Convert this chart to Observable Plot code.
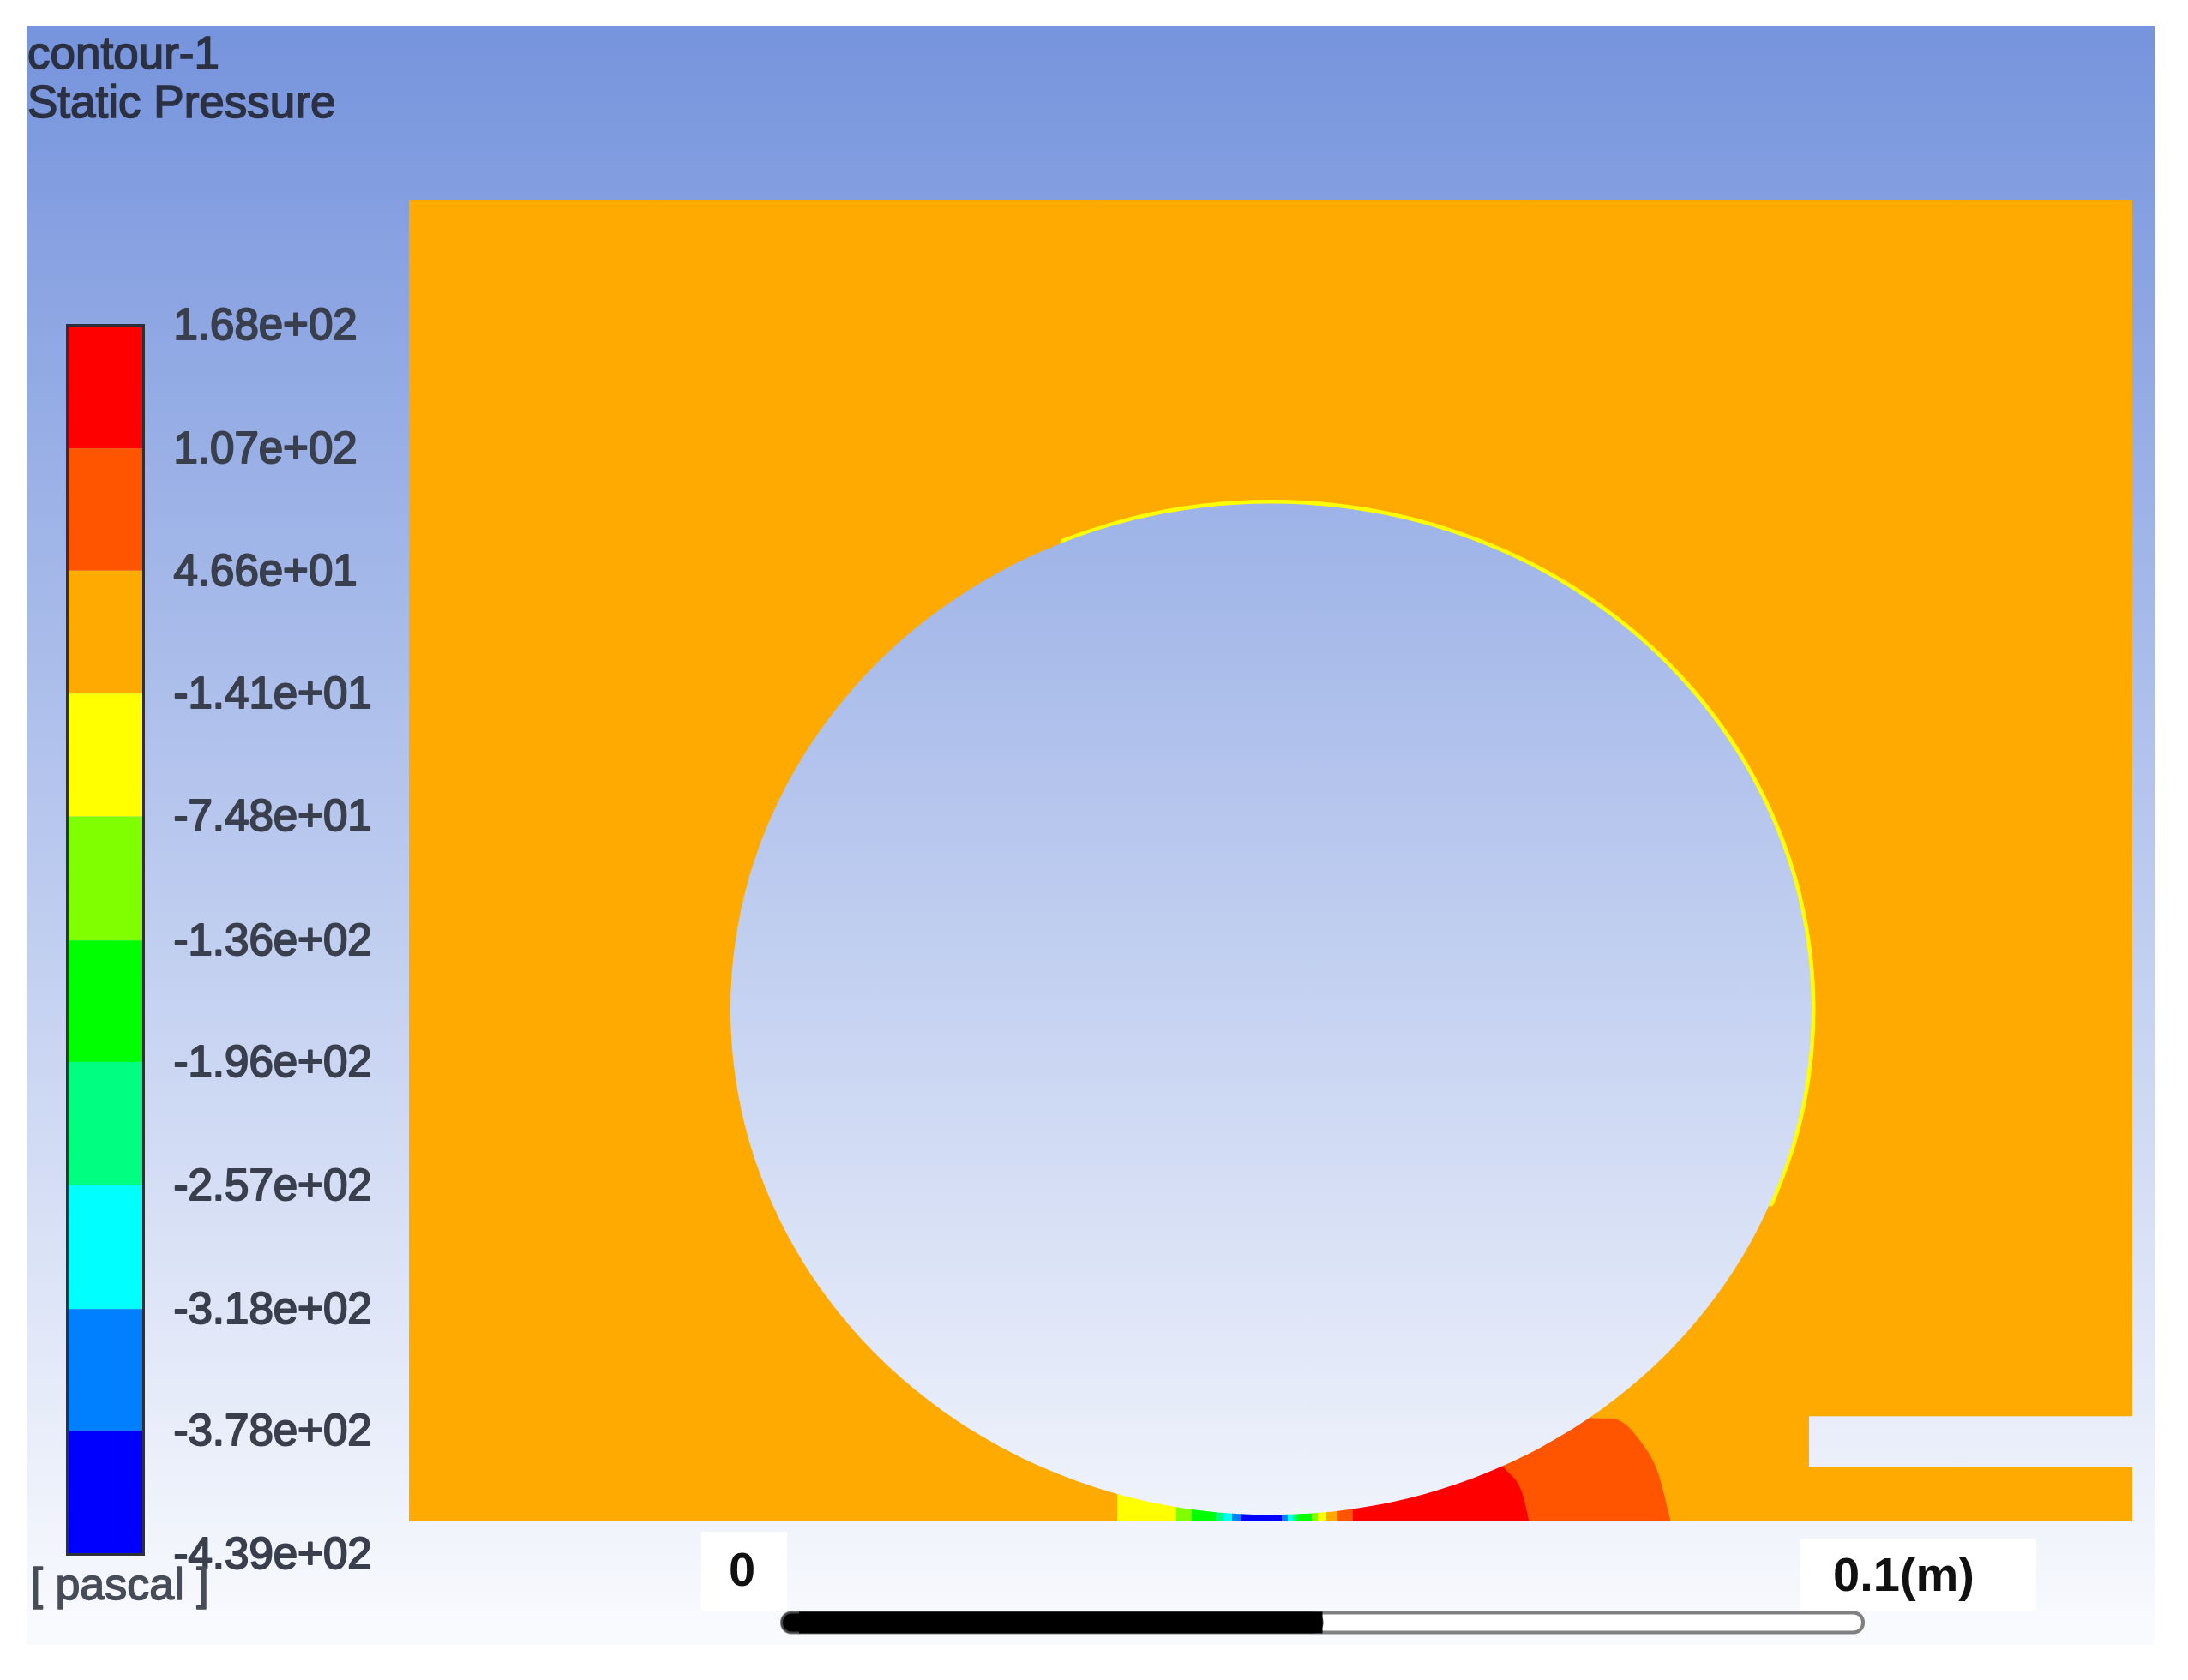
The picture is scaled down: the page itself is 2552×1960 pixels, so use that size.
<!DOCTYPE html>
<html><head><meta charset="utf-8">
<script src="https://cdn.jsdelivr.net/npm/d3@7"></script>
<script src="https://cdn.jsdelivr.net/npm/@observablehq/plot@0.6"></script>
<style>
html,body{margin:0;padding:0;background:#fff;width:2552px;height:1960px;overflow:hidden}
#frame{position:absolute;left:32px;top:30px;width:2481px;height:1889px;background:linear-gradient(to bottom,#7694dd 0%,#fafbfe 100%)}
#title{position:absolute;left:32px;top:33px;font-family:"Liberation Sans",Arial,sans-serif;font-size:53px;line-height:57px;color:#2b3142;-webkit-text-stroke:1.6px #2b3142}
.layer{position:absolute;left:0;top:0}
</style></head><body>
<div id="frame"></div>
<div id="title">contour-1<br>Static Pressure</div>
<div id="main" class="layer"></div>
<div id="legend" class="layer"></div>
<script>
// ---- colour bar (Static Pressure, Pa) ----
const levels = [168, 107, 46.6, -14.1, -74.8, -136, -196, -257, -318, -378, -439];
const levelLabels = ["1.68e+02","1.07e+02","4.66e+01","-1.41e+01","-7.48e+01","-1.36e+02","-1.96e+02","-2.57e+02","-3.18e+02","-3.78e+02","-4.39e+02"];
const bandColors = ["#ff0000","#ff5500","#ffaa00","#ffff00","#80ff00","#00ff00","#00ff80","#00ffff","#0080ff","#0000ff"];
const unitLabel = "[ pascal ]";

// ---- geometry (m) ----
const domainX = [-0.0797, 0.0797];
const domainY = [-0.0507, 0.0800];
const fluidBand = 2;                       // bulk of the domain: -1.41e+01 .. 4.66e+01
const plateX = [0.0498, 0.0797];
const plateY = [-0.0453, -0.0403];
const cylinderCenter = [0, 0];
// cylinder wall (D = 0.1 m), read every 15 degrees
const cylinderOutline = [
  [0.05,0],[0.0483,0.01294],[0.0433,0.025],[0.03536,0.03536],[0.025,0.0433],[0.01294,0.0483],
  [0,0.05],[-0.01294,0.0483],[-0.025,0.0433],[-0.03536,0.03536],[-0.0433,0.025],[-0.0483,0.01294],
  [-0.05,0],[-0.0483,-0.01294],[-0.0433,-0.025],[-0.03536,-0.03536],[-0.025,-0.0433],[-0.01294,-0.0483],
  [0,-0.05],[0.01294,-0.0483],[0.025,-0.0433],[0.03536,-0.03536],[0.0433,-0.025],[0.0483,-0.01294]];
// thin -1.41e+01..-7.48e+01 layer on the upper/right wall
const yellowEdge = [
  [-0.01913,0.04619],[-0.01294,0.0483],[-0.00653,0.04957],[0,0.05],[0.00653,0.04957],[0.01294,0.0483],
  [0.01913,0.04619],[0.025,0.0433],[0.03044,0.03967],[0.03536,0.03536],[0.03967,0.03044],[0.0433,0.025],
  [0.04619,0.01913],[0.0483,0.01294],[0.04957,0.00653],[0.05,0],[0.04957,-0.00653],[0.0483,-0.01294],[0.04619,-0.01913]];

// ---- contour bands near the contact ----
const orangeRedContour = [[0.0062,-0.036],[0.0270,-0.0395],[0.0300,-0.0405],[0.0315,-0.0405],[0.0343,-0.0429],[0.0358,-0.0458],[0.0370,-0.0507]];
const redContour = [[0.0076,-0.040],[0.0195,-0.0425],[0.0216,-0.0454],[0.0232,-0.0477],[0.0239,-0.0507]];
const contactEdges = [-0.01419,-0.00872,-0.00729,-0.00507,-0.00436,-0.00357,-0.00277,0.00103,0.00159,0.00206,0.00246,0.00381,0.00436,0.00515];
const contactBands = [3,4,5,6,7,8,9,8,7,6,5,4,3];

// ---- scale bar ----
const scaleBarStart = -0.0452;
const scaleBarLength = 0.1;
const scaleBarY = -0.0607;
const scaleLabels = ["0", "0.1(m)"];

const FONT = '"Liberation Sans", Arial, sans-serif';
const colorScale = {type: "ordinal", domain: d3.range(bandColors.length), range: bandColors};

const domainRect = [{x1: domainX[0], x2: domainX[1], y1: domainY[0], y2: domainY[1], band: fluidBand}];
const plateRect = [{x1: plateX[0], x2: plateX[1], y1: plateY[0], y2: plateY[1]}];
const strips = contactBands.map((b, i) => ({x1: contactEdges[i], x2: contactEdges[i + 1], y1: domainY[0], y2: cylinderCenter[1], band: b}));
const sb = [{x1: scaleBarStart, x2: scaleBarStart + scaleBarLength, xm: scaleBarStart + scaleBarLength / 2, y: scaleBarY}];
const orData = orangeRedContour.map(([x, y]) => ({x, y, base: domainY[0], band: 1}));
const redData = redContour.map(([x, y]) => ({x, y, base: domainY[0], band: 0}));
const cylData = cylinderOutline.map(([x, y]) => ({x: x + cylinderCenter[0], y: y + cylinderCenter[1]}));
const edgeData = yellowEdge.map(([x, y]) => ({x: x + cylinderCenter[0], y: y + cylinderCenter[1], band: 3}));

const main = Plot.plot({
  width: 2552, height: 1960,
  marginLeft: 477, marginRight: 65, marginTop: 233, marginBottom: 185,
  x: {domain: domainX, axis: null},
  y: {domain: domainY, axis: null},
  color: colorScale,
  style: {background: "transparent", maxWidth: "none", overflow: "visible"},
  marks: [
    Plot.rect(domainRect, {x1: "x1", x2: "x2", y1: "y1", y2: "y2", fill: "band"}),
    Plot.areaY(orData, {x: "x", y1: "base", y2: "y", fill: "band", curve: "monotone-x"}),
    Plot.areaY(redData, {x: "x", y1: "base", y2: "y", fill: "band", curve: "monotone-x"}),
    Plot.rect(strips, {x1: "x1", x2: "x2", y1: "y1", y2: "y2", fill: "band"}),
    Plot.rect(plateRect, {x1: "x1", x2: "x2", y1: "y1", y2: "y2", fill: "url(#bgGrad)"}),
    Plot.line(edgeData, {x: "x", y: "y", curve: "catmull-rom", stroke: "band", strokeWidth: 9, strokeLinecap: "round"}),
    Plot.line(cylData, {x: "x", y: "y", curve: "catmull-rom-closed", fill: "url(#bgGrad)", stroke: "none"}),
    // scale bar label boxes
    Plot.rect(sb, {x1: "x1", x2: "x1", y1: "y", y2: "y", insetLeft: -94, insetRight: -6, insetTop: -106, insetBottom: 13, fill: "white"}),
    Plot.rect(sb, {x1: "x2", x2: "x2", y1: "y", y2: "y", insetLeft: -73, insetRight: -202, insetTop: -98, insetBottom: 13, fill: "white"}),
    Plot.text(sb, {x: "x1", y: "y", text: () => scaleLabels[0], dx: -47, dy: -61, fontSize: 56, fontWeight: "bold", fontFamily: FONT, fill: "#111"}),
    Plot.text(sb, {x: "x2", y: "y", text: () => scaleLabels[1], dx: 47, dy: -55, fontSize: 56, fontWeight: "bold", fontFamily: FONT, fill: "#111"}),
    // scale bar
    Plot.rect(sb, {x1: "x1", x2: "x2", y1: "y", y2: "y", insetTop: -11.5, insetBottom: -11.5, fill: "white", stroke: "#808080", strokeWidth: 4, rx: 11}),
    Plot.rect(sb, {x1: "x1", x2: "xm", y1: "y", y2: "y", insetTop: -11.5, insetBottom: -11.5, fill: "black", stroke: "#444", strokeWidth: 2, rx: 11}),
    Plot.rect(sb, {x1: "x1", x2: "xm", y1: "y", y2: "y", insetLeft: 20, insetTop: -12.5, insetBottom: -12.5, fill: "black"})
  ]
});

// background gradient shared by the frame, cylinder and plate slot
const defs = d3.select(main).insert("defs", ":first-child");
const grad = defs.append("linearGradient").attr("id", "bgGrad")
  .attr("gradientUnits", "userSpaceOnUse").attr("x1", 0).attr("y1", 30).attr("x2", 0).attr("y2", 1919);
grad.append("stop").attr("offset", "0%").attr("stop-color", "#7694dd");
grad.append("stop").attr("offset", "100%").attr("stop-color", "#fafbfe");
document.getElementById("main").appendChild(main);

const bandsTable = bandColors.map((c, i) => ({band: i, hi: levels[i], lo: levels[i + 1], left: 0, right: 1}));
const levelTable = levels.map((v, i) => ({v, label: levelLabels[i], right: 1}));
const unitTable = [{label: unitLabel, left: 0, v: levels[levels.length - 1]}];
const legend = Plot.plot({
  width: 2552, height: 1960,
  marginLeft: 78, marginRight: 2385, marginTop: 379, marginBottom: 147,
  x: {domain: [0, 1], axis: null},
  y: {domain: [levels[levels.length - 1], levels[0]], axis: null},
  color: colorScale,
  style: {background: "transparent", maxWidth: "none", overflow: "visible"},
  marks: [
    Plot.rect(bandsTable, {x1: "left", x2: "right", y1: "lo", y2: "hi", fill: "band"}),
    Plot.frame({stroke: "#2f2f3a", strokeWidth: 3}),
    Plot.text(levelTable, {x: "right", y: "v", text: "label", dx: 35, textAnchor: "start", fontSize: 51, fontFamily: FONT, fill: "#3a3f4d", stroke: "#3a3f4d", strokeWidth: 2}),
    Plot.text(unitTable, {x: "left", y: "v", text: "label", dx: -43, dy: 36, textAnchor: "start", fontSize: 52, fontFamily: FONT, fill: "#474c59", stroke: "#474c59", strokeWidth: 1.5})
  ]
});
document.getElementById("legend").appendChild(legend);
</script>
</body></html>
